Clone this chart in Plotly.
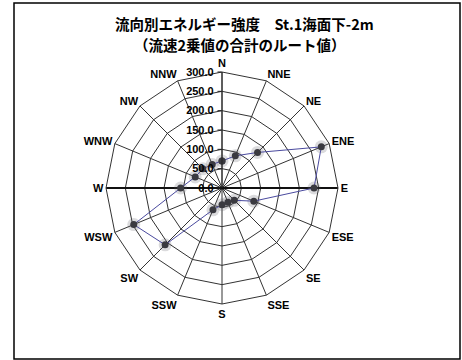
import plotly.graph_objects as go

# 16-point compass directions, clockwise from north
directions = ["N", "NNE", "NE", "ENE", "E", "ESE", "SE", "SSE",
              "S", "SSW", "SW", "WSW", "W", "WNW", "NW", "NNW"]
# Root of summed squared current speed per direction
energy = [70, 90, 130, 278, 238, 89, 45, 40,
          43, 61, 208, 247, 107, 75, 70, 66]

radial_ticks = [0, 50, 100, 150, 200, 250, 300]
r_max = 300

W, H = 462, 360
cx, cy, rad = 222, 188, 116

theta_closed = directions + directions[:1]
r_closed = energy + energy[:1]

fig = go.Figure()

# heavier west-east axis line through the centre
fig.add_trace(go.Scatterpolar(
    r=[r_max, r_max], theta=["W", "E"], mode="lines",
    line=dict(color="#111", width=1.8),
    hoverinfo="skip", showlegend=False,
))
# soft halo under each marker
fig.add_trace(go.Scatterpolar(
    r=energy, theta=directions, mode="markers",
    marker=dict(size=13, color="rgba(90,90,100,0.22)", line=dict(width=0)),
    hoverinfo="skip", showlegend=False,
))
# series line with markers
fig.add_trace(go.Scatterpolar(
    r=r_closed, theta=theta_closed, mode="lines+markers",
    line=dict(color="#4a4a9e", width=1),
    marker=dict(size=7, color="#3a3a40", line=dict(width=0)),
    showlegend=False,
))

label_font = dict(size=11, family="Liberation Sans, Arial, sans-serif", color="black")

fig.update_layout(
    width=W, height=H,
    margin=dict(l=0, r=0, t=0, b=0),
    paper_bgcolor="white",
    plot_bgcolor="white",
    font=dict(family="Liberation Sans, Arial, sans-serif", color="black"),
    polar=dict(
        domain=dict(x=[(cx - rad) / W, (cx + rad) / W],
                    y=[(H - cy - rad) / H, (H - cy + rad) / H]),
        bgcolor="white",
        gridshape="linear",
        radialaxis=dict(
            range=[0, r_max], tickvals=radial_ticks,
            ticktext=[f"<b>{v:.1f}</b>" for v in radial_ticks],
            angle=90, side="counterclockwise", tickangle=90,
            ticks="outside", ticklen=4, tickcolor="#222",
            showline=True, linecolor="#222", linewidth=1,
            gridcolor="#333", gridwidth=1,
            tickfont=label_font,
        ),
        angularaxis=dict(
            type="category", categoryarray=directions,
            tickvals=directions,
            ticktext=[f"<b>{d}</b>" for d in directions],
            rotation=90, direction="clockwise",
            showline=True, linecolor="#333", linewidth=1,
            gridcolor="#333", gridwidth=1,
            ticks="", tickfont=label_font,
        ),
    ),
    annotations=[
        dict(text="<b>流向別エネルギー強度　St.1海面下-2m</b>", x=244 / W, y=1 - 24 / H,
             xref="paper", yref="paper", yanchor="middle", showarrow=False,
             font=dict(size=14.5, family="Noto Sans CJK JP", color="black")),
        dict(text="<b>（流速2乗値の合計のルート値）</b>", x=240 / W, y=1 - 44 / H,
             xref="paper", yref="paper", yanchor="middle", showarrow=False,
             font=dict(size=14.5, family="Noto Sans CJK JP", color="black")),
    ],
    shapes=[
        dict(type="rect", xref="paper", yref="paper",
             x0=14 / W, x1=460 / W, y0=1 / H, y1=1 - 3 / H,
             line=dict(color="black", width=1.5)),
    ],
)

fig.write_html("out.html")
